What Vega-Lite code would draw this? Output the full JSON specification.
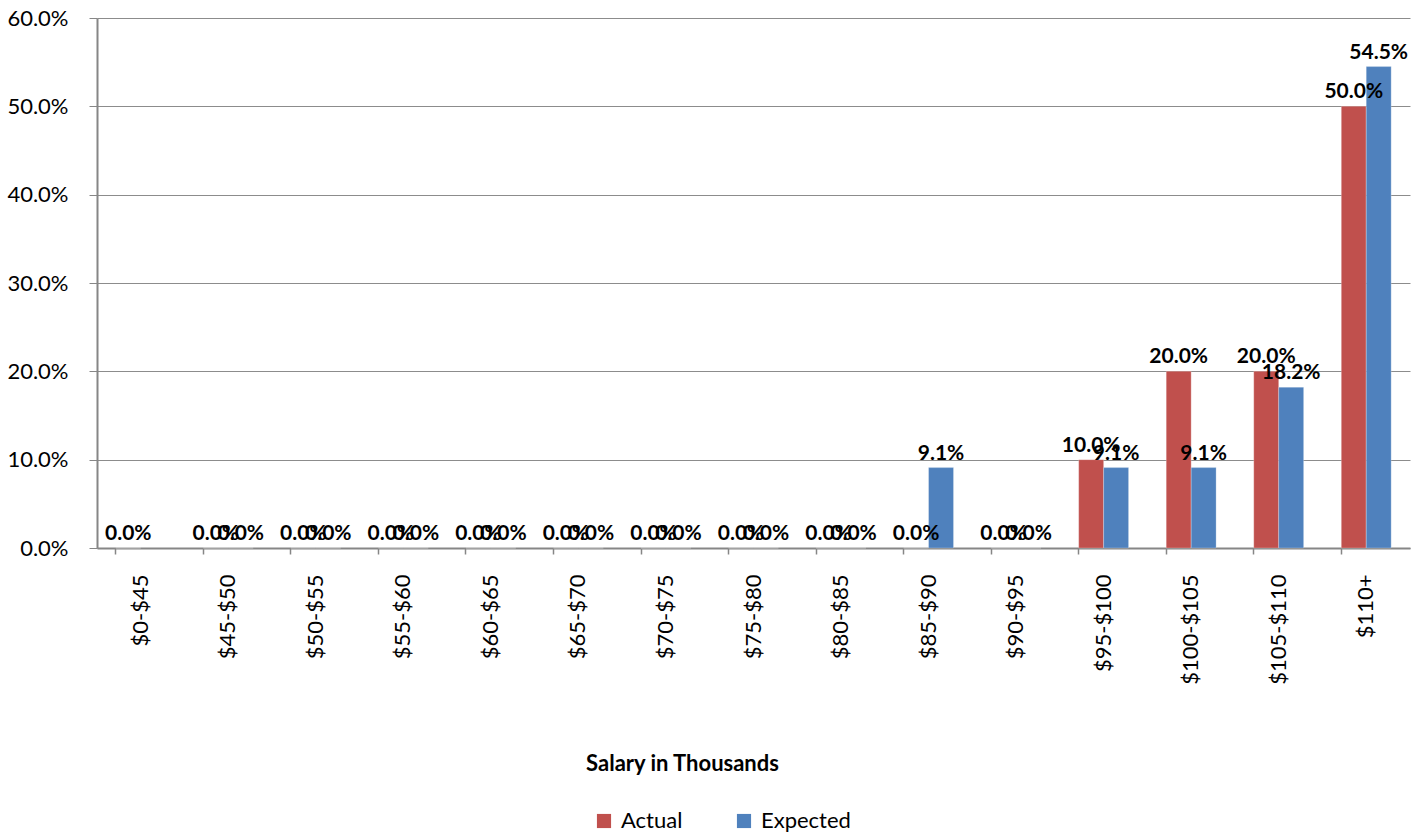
{
  "$schema": "https://vega.github.io/schema/vega-lite/v6.json",
  "autosize": "none",
  "width": 1313,
  "height": 530,
  "padding": {"left": 97, "top": 18, "right": 10, "bottom": 290},
  "background": "white",
  "data": {"values": [
    {"range": "$0-$45", "series": "Actual", "value": 0},
    {"range": "$45-$50", "series": "Actual", "value": 0},
    {"range": "$45-$50", "series": "Expected", "value": 0},
    {"range": "$50-$55", "series": "Actual", "value": 0},
    {"range": "$50-$55", "series": "Expected", "value": 0},
    {"range": "$55-$60", "series": "Actual", "value": 0},
    {"range": "$55-$60", "series": "Expected", "value": 0},
    {"range": "$60-$65", "series": "Actual", "value": 0},
    {"range": "$60-$65", "series": "Expected", "value": 0},
    {"range": "$65-$70", "series": "Actual", "value": 0},
    {"range": "$65-$70", "series": "Expected", "value": 0},
    {"range": "$70-$75", "series": "Actual", "value": 0},
    {"range": "$70-$75", "series": "Expected", "value": 0},
    {"range": "$75-$80", "series": "Actual", "value": 0},
    {"range": "$75-$80", "series": "Expected", "value": 0},
    {"range": "$80-$85", "series": "Actual", "value": 0},
    {"range": "$80-$85", "series": "Expected", "value": 0},
    {"range": "$85-$90", "series": "Actual", "value": 0},
    {"range": "$85-$90", "series": "Expected", "value": 0.091},
    {"range": "$90-$95", "series": "Actual", "value": 0},
    {"range": "$90-$95", "series": "Expected", "value": 0},
    {"range": "$95-$100", "series": "Actual", "value": 0.1},
    {"range": "$95-$100", "series": "Expected", "value": 0.091},
    {"range": "$100-$105", "series": "Actual", "value": 0.2},
    {"range": "$100-$105", "series": "Expected", "value": 0.091},
    {"range": "$105-$110", "series": "Actual", "value": 0.2},
    {"range": "$105-$110", "series": "Expected", "value": 0.182},
    {"range": "$110+", "series": "Actual", "value": 0.5},
    {"range": "$110+", "series": "Expected", "value": 0.545}
  ]},
  "encoding": {
    "x": {
      "field": "range", "type": "nominal", "sort": null,
      "scale": {"domain": ["$0-$45","$45-$50","$50-$55","$55-$60","$60-$65","$65-$70","$70-$75","$75-$80","$80-$85","$85-$90","$90-$95","$95-$100","$100-$105","$105-$110","$110+"], "paddingInner": 0.43, "paddingOuter": 0.215},
      "axis": {
        "title": "Salary in Thousands",
        "titleFont": "Lato", "titleFontSize": 22, "titleFontWeight": "bold", "titleColor": "#000",
        "titleX": 585, "titleY": 215, "titleBaseline": "middle", "titleAnchor": null, "titleAlign": "center",
        "labelAngle": -90, "labelAlign": "right", "labelBaseline": "middle",
        "labelFont": "Lato", "labelFontSize": 22, "labelColor": "#000", "labelPadding": 20,
        "bandPosition": 0, "labelOverlap": false,
        "tickSize": 6, "tickColor": "#868686", "domainColor": "#868686", "domainWidth": 2, "tickWidth": 1.5,
        "grid": false
      }
    },
    "xOffset": {"field": "series", "type": "nominal", "scale": {"domain": ["Actual", "Expected"], "paddingInner": 0, "paddingOuter": 0}},
    "y": {
      "field": "value", "type": "quantitative",
      "scale": {"domain": [0, 0.6], "nice": false},
      "axis": {
        "title": null, "format": ".1%", "values": [0, 0.1, 0.2, 0.3, 0.4, 0.5, 0.6], "labelOverlap": false,
        "labelFont": "Lato", "labelFontSize": 22, "labelColor": "#000", "labelPadding": 21,
        "tickSize": 8, "tickColor": "#868686", "domainColor": "#868686", "domainWidth": 2,
        "gridColor": "#8c8c8c", "gridWidth": 1
      }
    }
  },
  "layer": [
    {
      "mark": {"type": "bar", "stroke": "white", "strokeWidth": 0.5, "strokeOpacity": 0.5},
      "encoding": {
        "color": {
          "field": "series", "type": "nominal",
          "scale": {"domain": ["Actual", "Expected"], "range": ["#C0504D", "#4F81BD"]},
          "legend": {
            "title": null, "orient": "none", "direction": "horizontal",
            "legendX": 496, "legendY": 792,
            "symbolType": "square", "symbolSize": 200, "symbolStrokeWidth": 0,
            "labelFont": "Lato", "labelFontSize": 22, "labelColor": "#000",
            "columnPadding": 50, "labelOffset": 6
          }
        }
      }
    },
    {
      "mark": {"type": "text", "font": "Lato", "fontSize": 21, "fontWeight": "bold", "color": "#000", "baseline": "bottom", "dy": -4},
      "encoding": {
        "text": {"field": "value", "type": "quantitative", "format": ".1%"}
      }
    }
  ],
  "config": {"view": {"stroke": null}}
}
